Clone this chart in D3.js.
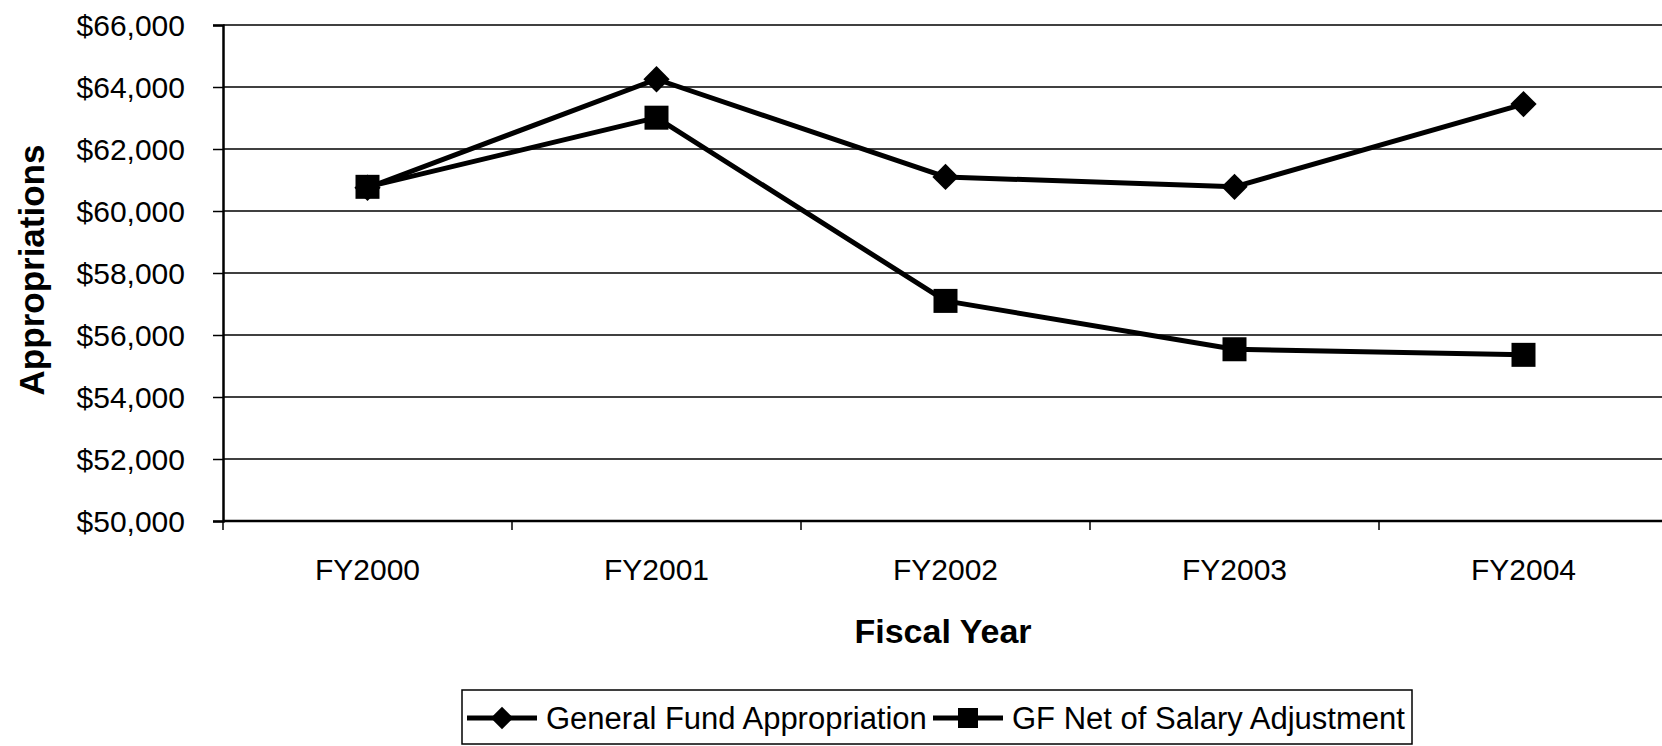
<!DOCTYPE html>
<html>
<head>
<meta charset="utf-8">
<script src="https://cdn.jsdelivr.net/npm/d3@7"></script>
<style>
  body { margin: 0; background: #fff; }
  text { font-family: "Liberation Sans", Arial, sans-serif; fill: #000; }
</style>
</head>
<body>
<div id="chart"></div>
<script>
// categories and series
var years = ["FY2000", "FY2001", "FY2002", "FY2003", "FY2004"];
var generalFund = [60750, 64250, 61100, 60780, 63450];
var gfNetSalary = [60780, 63010, 57100, 55540, 55360];
var yTicks = [50000, 52000, 54000, 56000, 58000, 60000, 62000, 64000, 66000];
var seriesNames = ["General Fund Appropriation", "GF Net of Salary Adjustment"];

var W = 1662, H = 746;
var margin = {top: 25, left: 223, bottom: 521};

var svg = d3.select("#chart").append("svg")
  .attr("width", W)
  .attr("height", H);

// scales - the plot runs past the right edge of the picture
var x = d3.scaleBand().domain(years).range([margin.left, 1668]);
var y = d3.scaleLinear().domain([50000, 66000]).range([margin.bottom, margin.top]);

// horizontal gridlines
svg.append("g")
  .selectAll("line")
  .data(yTicks)
  .join("line")
    .attr("x1", margin.left).attr("x2", W)
    .attr("y1", function(d) { return y(d); })
    .attr("y2", function(d) { return y(d); })
    .attr("stroke", "#000")
    .attr("stroke-width", 1.5);

// y axis
var yAxis = svg.append("g")
  .attr("transform", "translate(" + margin.left + ",0)")
  .call(d3.axisLeft(y).tickValues(yTicks).tickSize(10).tickPadding(28)
    .tickFormat(d3.format("$,")));
yAxis.select(".domain").attr("stroke", "#000").attr("stroke-width", 2.5);
yAxis.selectAll(".tick line").attr("stroke-width", 1.5);
yAxis.selectAll(".tick text")
  .style("font-size", "30px")
  .attr("dy", "0.36em");

// x axis line + boundary ticks
svg.append("line")
  .attr("x1", margin.left).attr("x2", W)
  .attr("y1", y(50000)).attr("y2", y(50000))
  .attr("stroke", "#000").attr("stroke-width", 2.5);
svg.append("g")
  .selectAll("line")
  .data(years)
  .join("line")
    .attr("x1", function(d) { return x(d); })
    .attr("x2", function(d) { return x(d); })
    .attr("y1", y(50000)).attr("y2", y(50000) + 9)
    .attr("stroke", "#000").attr("stroke-width", 1.5);

// category labels
svg.append("g")
  .selectAll("text")
  .data(years)
  .join("text")
    .attr("x", function(d) { return x(d) + x.bandwidth() / 2; })
    .attr("y", 580)
    .attr("text-anchor", "middle")
    .style("font-size", "30px")
    .text(function(d) { return d; });

// axis titles
svg.append("text")
  .attr("x", 943).attr("y", 643)
  .attr("text-anchor", "middle")
  .style("font-size", "34px").style("font-weight", "bold")
  .text("Fiscal Year");
svg.append("text")
  .attr("transform", "translate(44,270) rotate(-90)")
  .attr("text-anchor", "middle")
  .style("font-size", "35px").style("font-weight", "bold")
  .text("Appropriations");

// lines
var line = d3.line()
  .x(function(d, i) { return x(years[i]) + x.bandwidth() / 2; })
  .y(function(d) { return y(d); });

var diamond = d3.symbol().type(d3.symbolDiamond2).size(440);
var square = d3.symbol().type(d3.symbolSquare).size(576);

function drawSeries(values, sym) {
  svg.append("path")
    .datum(values)
    .attr("fill", "none")
    .attr("stroke", "#000")
    .attr("stroke-width", 5)
    .attr("stroke-linejoin", "round")
    .attr("d", line);
  svg.append("g")
    .selectAll("path")
    .data(values)
    .join("path")
      .attr("transform", function(d, i) {
        return "translate(" + (x(years[i]) + x.bandwidth() / 2) + "," + y(d) + ")";
      })
      .attr("d", sym)
      .attr("fill", "#000");
}
drawSeries(generalFund, diamond);
drawSeries(gfNetSalary, square);

// legend
var legend = svg.append("g");
legend.append("rect")
  .attr("x", 462).attr("y", 690)
  .attr("width", 950).attr("height", 54)
  .attr("fill", "none").attr("stroke", "#000").attr("stroke-width", 1.5);

var legendItems = [
  {name: seriesNames[0], sym: d3.symbol().type(d3.symbolDiamond2).size(320), x0: 467},
  {name: seriesNames[1], sym: d3.symbol().type(d3.symbolSquare).size(400), x0: 933}
];
legendItems.forEach(function(item) {
  legend.append("line")
    .attr("x1", item.x0).attr("x2", item.x0 + 70)
    .attr("y1", 718).attr("y2", 718)
    .attr("stroke", "#000").attr("stroke-width", 5);
  legend.append("path")
    .attr("transform", "translate(" + (item.x0 + 35) + ",718)")
    .attr("d", item.sym)
    .attr("fill", "#000");
  legend.append("text")
    .attr("x", item.x0 + 79).attr("y", 718)
    .attr("dy", "0.36em")
    .style("font-size", "31px")
    .text(item.name);
});
</script>
</body>
</html>
